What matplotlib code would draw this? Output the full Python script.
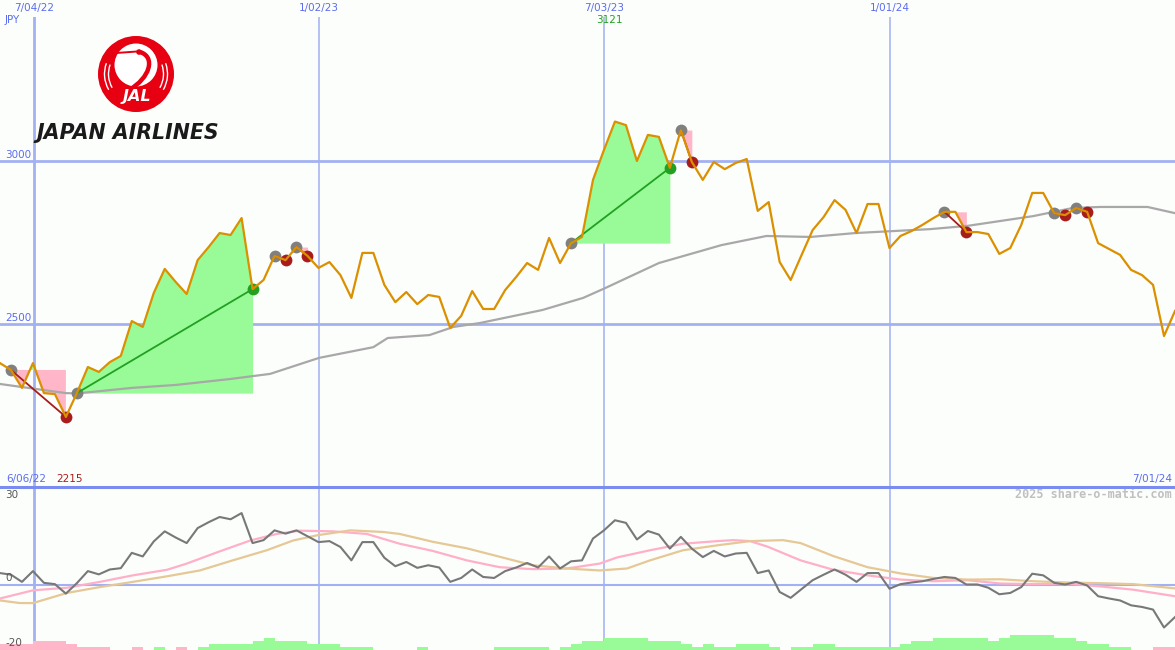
import matplotlib
matplotlib.use("Agg")
import matplotlib.pyplot as plt
import matplotlib.transforms as mtransforms
import numpy as np
from matplotlib.patches import Circle, PathPatch, Arc
from matplotlib.path import Path

# ---------------------------------------------------------------
# Data (weekly, 6/06/22 .. 7/01/24)
# ---------------------------------------------------------------
weeks = np.arange(108)

# weekly close, JPY
close = [2380, 2359, 2304, 2380, 2288, 2285, 2215, 2288, 2368, 2353,
         2383, 2402, 2509, 2491, 2595, 2669, 2629, 2592, 2696, 2736,
         2779, 2773, 2825, 2607, 2635, 2709, 2696, 2736, 2709, 2672,
         2690, 2650, 2580, 2718, 2718, 2620, 2567, 2598, 2561, 2589,
         2583, 2488, 2525, 2601, 2546, 2546, 2604, 2644, 2687, 2666,
         2764, 2687, 2748, 2767, 2942, 3034, 3121, 3110, 3000, 3080,
         3074, 2979, 3095, 2997, 2942, 2997, 2975, 2994, 3006, 2847,
         2874, 2690, 2635, 2712, 2788, 2828, 2880, 2850, 2779, 2868,
         2868, 2733, 2770, 2785, 2804, 2825, 2844, 2844, 2782, 2782,
         2776, 2715, 2733, 2804, 2902, 2902, 2840, 2834, 2856, 2844,
         2748, 2730, 2712, 2666, 2650, 2620, 2463, 2540]

# slow moving average (grey line), read at irregular weeks
ma_weeks = [0, 6.0, 7.0, 12.0, 16.0, 20.9, 24.6, 29.05, 34.0, 35.3,
            39.1, 41.3, 43.7, 49.4, 53.1, 55.1, 60.0, 65.7, 69.8, 73.8,
            77.9, 84.7, 88.1, 94.1, 97.7, 100.2, 104.5, 107]
ma_slow = [2316, 2288, 2287, 2304, 2313, 2331, 2347, 2396, 2429, 2457,
           2466, 2491, 2503, 2543, 2580, 2610, 2687, 2742, 2770, 2767,
           2779, 2791, 2801, 2831, 2856, 2859, 2859, 2840]

# trade signals (week index of entry / exit)
short_entry = [1, 25, 27, 62, 86, 96, 98]
short_exit = [6, 26, 28, 63, 88, 97, 99]
long_entry = [7, 52]
long_exit = [23, 61]

# lower panel: momentum and its two averages
momentum = [3.6, 3.1, 0.9, 4.2, 0.6, 0.2, -2.7, 0.5, 4.2, 3.2,
            4.7, 5.1, 9.8, 8.7, 13.3, 16.4, 14.5, 12.8, 17.4, 19.2,
            20.8, 20.1, 22.0, 12.8, 13.7, 16.7, 15.7, 16.7, 14.9, 13.1,
            13.4, 11.6, 7.5, 13.1, 13.1, 8.3, 5.7, 7.0, 5.2, 6.0,
            5.3, 0.9, 2.1, 4.7, 2.4, 2.1, 4.2, 5.3, 6.7, 5.3,
            8.7, 5.0, 7.2, 7.5, 14.2, 16.7, 19.8, 19.0, 13.9, 16.5,
            15.4, 11.1, 14.7, 11.1, 8.5, 10.4, 8.7, 9.6, 9.8, 3.6,
            4.4, -2.2, -4.0, -1.3, 1.4, 3.1, 4.7, 3.1, 0.9, 3.6,
            3.6, -1.2, 0.2, 0.7, 1.1, 1.8, 2.4, 2.1, 0.1, 0.1,
            -0.9, -2.9, -2.5, -0.7, 3.4, 2.9, 0.6, 0.1, 0.9, -0.2,
            -3.5, -4.2, -4.8, -6.3, -6.8, -7.6, -13.1, -9.9]

fast_weeks = [0, 3.0, 6.1, 9.1, 12.1, 15.2, 17.0, 19.8, 22.8, 25.2,
              27.3, 30.3, 33.4, 36.4, 39.4, 42.5, 45.5, 48.5, 51.6, 54.6,
              56.2, 59.2, 62.2, 65.3, 66.8, 68.3, 69.9, 72.9, 75.9, 79.0,
              82.0, 85.0, 88.1, 91.1, 94.1, 97.2, 100.2, 103.2, 107]
osc_fast = [-4.2, -1.7, -0.9, 0.9, 2.9, 4.6, 6.5, 10.0, 13.6, 15.6,
            16.6, 16.4, 15.6, 12.6, 10.4, 7.5, 5.4, 4.8, 5.0, 6.5,
            8.4, 10.6, 12.6, 13.4, 13.7, 13.4, 11.7, 7.5, 4.6, 2.9,
            1.6, 1.1, 1.4, 0.4, 0.2, 0.4, -0.5, -1.5, -3.5]

slow_weeks = [0, 1.8, 3.0, 6.1, 9.1, 12.1, 15.2, 18.2, 21.2, 24.3,
              26.7, 28.9, 31.9, 34.9, 36.4, 39.4, 42.5, 45.5, 48.5, 51.6,
              54.6, 57.1, 59.2, 62.2, 65.3, 68.3, 71.3, 72.9, 75.9, 79.0,
              82.0, 85.0, 88.1, 91.1, 94.1, 97.2, 100.2, 103.2, 107]
osc_slow = [-4.8, -5.6, -5.6, -2.5, -0.7, 0.9, 2.6, 4.4, 7.5, 10.6,
            13.6, 15.2, 16.7, 16.2, 15.6, 13.2, 11.2, 8.6, 6.0, 5.0,
            4.4, 5.0, 7.5, 10.6, 12.1, 13.4, 13.7, 12.8, 8.8, 5.4,
            3.5, 2.1, 1.6, 1.7, 1.1, 0.7, 0.5, 0.2, -1.1]

# histogram along the bottom of the lower panel
hist = [-1.9, -1.9, -1.9, -2.8, -2.8, -2.8, -1.9, -1.0, -1.0, -1.0,
        0, 0, -1.0, 0, 1.0, 0, -1.0, 0, 1.0, 1.9,
        1.9, 1.9, 1.9, 2.8, 3.7, 2.8, 2.8, 2.8, 1.9, 1.9,
        1.9, 1.0, 1.0, 1.0, 0, 0, 0, 0, 1.0, 0,
        0, 0, 0, 0, 0, 1.0, 1.0, 1.0, 1.0, 1.0,
        0, 1.0, 1.9, 2.8, 2.8, 3.7, 3.7, 3.7, 3.7, 2.8,
        2.8, 2.8, 1.9, 1.0, 1.9, 1.0, 1.0, 1.9, 1.9, 1.9,
        1.0, 0, 1.0, 1.0, 1.9, 1.9, 1.0, 1.0, 1.0, 1.0,
        1.0, 1.0, 1.9, 2.8, 2.8, 3.7, 3.7, 3.7, 3.7, 3.7,
        2.8, 3.7, 4.6, 4.6, 4.6, 4.6, 3.7, 3.7, 2.8, 1.9,
        1.9, 1.0, 1.0, 0, 0, -1.0, -1.0, 0]

# date grid lines (in week units) and labels
date_pos = [3.1, 29.05, 55.0, 81.05]
date_labels = ['7/04/22', '1/02/23', '7/03/23', '1/01/24']
first_date, last_date = '6/06/22', '7/01/24'
price_lines = [2500, 3000]

# ---------------------------------------------------------------
# Colours
# ---------------------------------------------------------------
BG = '#fcfefc'
GRID = '#a3b1f2'
SEP = '#7b8cf0'
LABEL = '#5b6cf0'
ORANGE = '#db9000'
MAGREY = '#a8a8a8'
FILL_UP = '#98fb98'
FILL_DN = '#ffb6c8'
RED = '#a81c1c'
GREEN = '#22a022'
DOT = '#808080'

close = np.array(close, dtype=float)
hist = np.array(hist)

fig = plt.figure(figsize=(11.75, 6.5), dpi=100)
fig.patch.set_facecolor(BG)
ax2 = fig.add_axes([0, 0, 1, 163 / 650])
ax = fig.add_axes([0, 163 / 650, 1, 470 / 650])

for a in (ax, ax2):
    a.set_facecolor('none')
    a.set_xlim(0, 107)
    a.set_xticks([])
    a.set_yticks([])
    for s in a.spines.values():
        s.set_visible(False)
    for i, p in enumerate(date_pos):
        a.axvline(p, color=GRID, lw=2.0 if i == 0 else 1.1, zorder=0.5)

ax.set_ylim(2000, 3441.7)
ax2.set_ylim(-20, 30)
ax.spines['bottom'].set_visible(True)
ax.spines['bottom'].set_color(SEP)
ax.spines['bottom'].set_linewidth(2.2)

for lvl in price_lines:
    ax.axhline(lvl, color=GRID, lw=2.0, zorder=0.5)

# --- trade shading ---
for e, x in list(zip(short_entry, short_exit)) + list(zip(long_entry, long_exit)):
    seg = weeks[e:x + 1]
    p = close[e:x + 1]
    base = close[e]
    ax.fill_between(seg, base, p, where=p >= base, interpolate=True,
                    color=FILL_UP, lw=0, zorder=1)
    ax.fill_between(seg, base, p, where=p <= base, interpolate=True,
                    color=FILL_DN, lw=0, zorder=1)

# slow MA
ax.plot(ma_weeks, ma_slow, color=MAGREY, lw=1.6, zorder=2)

# signal dots and connecting lines
for e, x in zip(short_entry, short_exit):
    ax.plot([e, x], [close[e], close[x]], color=RED, lw=1.3, zorder=3.5)
    ax.plot(x, close[x], 'o', color=RED, ms=8.5, mec='none', zorder=3)
for e, x in zip(long_entry, long_exit):
    ax.plot([e, x], [close[e], close[x]], color=GREEN, lw=1.3, zorder=3.5)
    ax.plot(x, close[x], 'o', color=GREEN, ms=8.5, mec='none', zorder=3)
entries = short_entry + long_entry
ax.plot(entries, close[entries], 'o', color=DOT, ms=8.5, mec='none', zorder=3)

# price line
ax.plot(weeks, close, color=ORANGE, lw=1.6, zorder=4)

# --- labels on the price panel ---
fs = 7.5
top = mtransforms.blended_transform_factory(ax.transData, ax.transAxes)
for p, lab in zip(date_pos, date_labels):
    ax.text(p, 1.019, lab, transform=top, ha='center', va='center',
            color=LABEL, fontsize=fs, clip_on=False)
imax = int(np.argmax(close))
ax.text(imax - 0.5, 0.993, f'{int(close[imax])}', transform=top,
        ha='center', va='center', color=GREEN, fontsize=fs)
ax.text(5 / 1175, 0.993, 'JPY', transform=ax.transAxes, ha='left',
        va='center', color=LABEL, fontsize=fs)
for lvl in price_lines:
    ax.annotate(str(lvl), xy=(0, lvl), xycoords=ax.get_yaxis_transform(),
                xytext=(5, 1), textcoords='offset pixels', ha='left',
                va='bottom', color=LABEL, fontsize=fs)
imin = int(np.argmin(close))
ax.text(6 / 1175, 0.017, first_date, transform=ax.transAxes, ha='left',
        va='center', color=LABEL, fontsize=fs)
ax.text(56 / 1175, 0.017, f'{int(close[imin])}', transform=ax.transAxes,
        ha='left', va='center', color=RED, fontsize=fs)
ax.text(1172 / 1175, 0.017, last_date, transform=ax.transAxes, ha='right',
        va='center', color=LABEL, fontsize=fs)

# --- lower panel ---
ax2.axhline(0, color=GRID, lw=1.5, zorder=0.5)
ax2.bar(weeks, np.abs(hist), bottom=-20, width=1.0, align='edge',
        color=np.where(hist >= 0, FILL_UP, FILL_DN), lw=0, zorder=1)
ax2.plot(fast_weeks, osc_fast, color='#ffb0c8', lw=1.6, zorder=2)
ax2.plot(slow_weeks, osc_slow, color='#e6c896', lw=1.6, zorder=2)
ax2.plot(weeks, momentum, color='#787878', lw=1.5, zorder=3)
for lab, yy in (('30', 0.951), ('0', 0.442), ('-20', 0.043)):
    ax2.text(5 / 1175, yy, lab, transform=ax2.transAxes, ha='left',
             va='center', color='#555555', fontsize=fs)
ax2.text(1172 / 1175, 0.951, '2025 share-o-matic.com', transform=ax2.transAxes,
         ha='right', va='center', color='#c0c0c0', fontsize=8.5,
         family='DejaVu Sans Mono', weight='bold')

# --- JAL logo (overlay in pixel units) ---
lg = fig.add_axes([0, 0, 1, 1], zorder=10)
lg.set_xlim(0, 1175)
lg.set_ylim(650, 0)
lg.axis('off')
lg.patch.set_visible(False)
JALRED = '#e60012'
lg.add_patch(Circle((136, 74), 38, color=JALRED, lw=0))
lg.add_patch(Circle((136, 65), 21.5, color='white', lw=0))
# wing-tip feathers
for r in (27.5, 31.5):
    lg.add_patch(Arc((136, 74), 2 * r, 2 * r, theta1=150, theta2=200,
                     color='white', lw=1.0))
    lg.add_patch(Arc((136, 74), 2 * r, 2 * r, theta1=-20, theta2=30,
                     color='white', lw=1.0))
# neck, head and beak of the crane
neck = Path([(140, 52), (156, 57), (150, 78), (129, 90)],
            [Path.MOVETO, Path.CURVE4, Path.CURVE4, Path.CURVE4])
lg.add_patch(PathPatch(neck, fill=False, edgecolor=JALRED, lw=3.2))
lg.plot([116, 137], [53, 51.5], color=JALRED, lw=1.4)
lg.add_patch(Circle((139, 52), 2.8, color=JALRED, lw=0))
lg.text(137, 96, 'JAL', ha='center', va='center', color='white',
        fontsize=11.5, weight='bold', style='italic', family='DejaVu Sans')
lg.text(36, 139, 'JAPAN AIRLINES', ha='left', va='baseline', color='#1a1a1a',
        fontsize=14.8, weight='heavy', style='italic', family='DejaVu Sans')

fig.savefig('out.png', dpi=100, facecolor=BG)
